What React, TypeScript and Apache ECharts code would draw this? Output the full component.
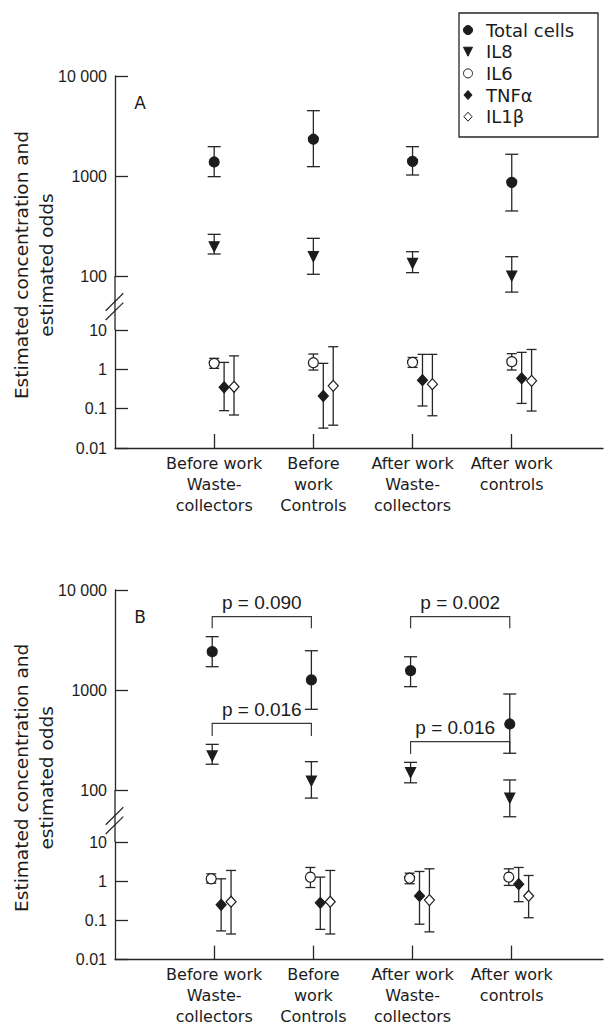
import React, { useEffect, useRef } from 'react';
import * as echarts from 'echarts';

// ---------- data ----------
const categories = [
  'Before work\nWaste-\ncollectors',
  'Before\nwork\nControls',
  'After work\nWaste-\ncollectors',
  'After work\ncontrols',
];
const seriesNames = ['Total cells', 'IL8', 'IL6', 'TNFα', 'IL1β'];

// Panel A
const aTotal = [1380, 2330, 1400, 865];
const aTotalLow = [985, 1240, 1023, 447];
const aTotalHigh = [1965, 4500, 1965, 1650];
const aIL8 = [196, 156, 134, 100];
const aIL8Low = [166, 104, 108, 69];
const aIL8High = [261, 238, 175, 156];
const aIL6 = [1.42, 1.47, 1.5, 1.57];
const aIL6Low = [1.06, 0.96, 1.12, 0.96];
const aIL6High = [1.9, 2.45, 2.0, 2.5];
const aTNF = [0.35, 0.21, 0.53, 0.59];
const aTNFLow = [0.089, 0.032, 0.117, 0.136];
const aTNFHigh = [1.5, 1.42, 2.4, 2.7];
const aIL1b = [0.36, 0.38, 0.42, 0.51];
const aIL1bLow = [0.069, 0.038, 0.066, 0.087];
const aIL1bHigh = [2.2, 3.76, 2.4, 3.2];

// Panel B
const bTotal = [2415, 1260, 1560, 457];
const bTotalLow = [1710, 641, 1080, 233];
const bTotalHigh = [3415, 2470, 2150, 912];
const bIL8 = [219, 123, 149, 83];
const bIL8Low = [181, 83, 118, 54];
const bIL8High = [286, 192, 189, 126];
const bIL6 = [1.15, 1.27, 1.19, 1.27];
const bIL6Low = [0.89, 0.69, 0.86, 0.78];
const bIL6High = [1.54, 2.24, 1.6, 2.07];
const bTNF = [0.25, 0.28, 0.42, 0.84];
const bTNFLow = [0.054, 0.059, 0.08, 0.3];
const bTNFHigh = [1.15, 1.27, 1.77, 2.24];
const bIL1b = [0.3, 0.3, 0.33, 0.42];
const bIL1bLow = [0.045, 0.045, 0.051, 0.117];
const bIL1bHigh = [1.88, 1.88, 2.07, 1.4];

// Axis tick values
const upperTicks = [100, 1000, 10000];
const lowerTicks = [0.01, 0.1, 1, 10];

// Significance brackets (panel B): category numbers, bracket level, arm end, label
const bracketFrom = [1, 1, 3, 3];
const bracketTo = [2, 2, 4, 4];
const bracketLevel = [5410, 464, 5410, 304];
const bracketArm = [4140, 347, 4140, 229];
const bracketText = ['p = 0.090', 'p = 0.016', 'p = 0.002', 'p = 0.016'];

// ---------- styles ----------
const INK = '#1c1c1c';
const LINE = '#262626';
const TEXT_FONT = '"DejaVu Sans", sans-serif';
const NUM_FONT = '"Liberation Sans", Arial, sans-serif';
const X_MAX = 4.92;
const offsetsA = [0, 0, 0, 0.1, 0.2];
const offsetsB = [-0.02, -0.02, -0.03, 0.07, 0.17];
const bracketTextShift = [0, 0, 0, -5];

const DIAMOND = 'path://M5,0 L10,5.5 L5,11 L0,5.5 Z';
const TRI_DOWN = 'path://M0,0 L10,0 L5,10 Z';

const symbols = [
  { symbol: 'circle', size: 10, fill: INK },
  { symbol: TRI_DOWN, size: [10, 10], fill: INK },
  { symbol: 'circle', size: 10, fill: '#ffffff' },
  { symbol: DIAMOND, size: [10, 11], fill: INK },
  { symbol: DIAMOND, size: [10, 11], fill: '#ffffff' },
];

const panels = [
  {
    vals: [aTotal, aIL8, aIL6, aTNF, aIL1b],
    lows: [aTotalLow, aIL8Low, aIL6Low, aTNFLow, aIL1bLow],
    highs: [aTotalHigh, aIL8High, aIL6High, aTNFHigh, aIL1bHigh],
    offsets: offsetsA,
  },
  {
    vals: [bTotal, bIL8, bIL6, bTNF, bIL1b],
    lows: [bTotalLow, bIL8Low, bIL6Low, bTNFLow, bIL1bLow],
    highs: [bTotalHigh, bIL8High, bIL6High, bTNFHigh, bIL1bHigh],
    offsets: offsetsB,
  },
];

function fmtY(v: number) {
  const r = Number(v.toPrecision(3));
  if (r === 10000) return '10 000';
  return String(r);
}

function buildOption() {
  const gridLayout = [
    { top: 76, height: 200 },
    { top: 330, height: 118 },
    { top: 590, height: 200 },
    { top: 842, height: 120 },
  ];
  const grid = gridLayout.map((g) => ({ left: 115, width: 488, top: g.top, height: g.height }));

  const xAxis = gridLayout.map((_, gi) => {
    const lower = gi % 2 === 1;
    return {
      type: 'value',
      gridIndex: gi,
      min: 0,
      max: X_MAX,
      interval: 1,
      show: lower,
      splitLine: { show: false },
      axisLine: { show: lower, onZero: false, lineStyle: { color: LINE, width: 1.3 } },
      axisTick: {
        show: lower,
        inside: true,
        length: 14,
        customValues: [1, 2, 3, 4],
        lineStyle: { color: LINE, width: 1.3 },
      },
      axisLabel: {
        show: lower,
        customValues: [1, 2, 3, 4],
        margin: 5,
        fontFamily: TEXT_FONT,
        fontSize: 16,
        lineHeight: 20.8,
        color: INK,
        formatter: (v: number) => categories[Math.round(v) - 1] ?? '',
      },
    };
  });

  const yAxis = gridLayout.map((_, gi) => {
    const upper = gi % 2 === 0;
    return {
      type: 'log',
      logBase: 10,
      gridIndex: gi,
      min: upper ? upperTicks[0] : lowerTicks[0],
      max: upper ? upperTicks[upperTicks.length - 1] : lowerTicks[lowerTicks.length - 1],
      splitLine: { show: false },
      axisLine: { show: true, onZero: false, lineStyle: { color: LINE, width: 1.3 } },
      axisTick: { show: true, inside: true, length: 13, lineStyle: { color: LINE, width: 1.3 } },
      axisLabel: {
        margin: 8,
        fontFamily: NUM_FONT,
        fontSize: 16,
        color: INK,
        formatter: (v: number) => fmtY(v),
      },
    };
  });

  const series: any[] = [];
  panels.forEach((p, pi) => {
    seriesNames.forEach((name, si) => {
      const gi = pi * 2 + (si < 2 ? 0 : 1);
      const off = p.offsets[si];
      const cap = si < 2 ? 6.5 : 5;
      series.push({
        type: 'custom',
        name: name + ' CI ' + pi,
        xAxisIndex: gi,
        yAxisIndex: gi,
        silent: true,
        clip: false,
        z: 2,
        encode: { x: 0, y: [1, 2] },
        data: p.vals[si].map((_, i) => [i + 1 + off, p.lows[si][i], p.highs[si][i]]),
        renderItem: (params: any, api: any) => {
          const x = api.value(0);
          const lo = api.coord([x, api.value(1)]);
          const hi = api.coord([x, api.value(2)]);
          const st = { stroke: LINE, lineWidth: 1.3 };
          return {
            type: 'group',
            children: [
              { type: 'line', shape: { x1: lo[0], y1: lo[1], x2: hi[0], y2: hi[1] }, style: st },
              { type: 'line', shape: { x1: hi[0] - cap, y1: hi[1], x2: hi[0] + cap, y2: hi[1] }, style: st },
              { type: 'line', shape: { x1: lo[0] - cap, y1: lo[1], x2: lo[0] + cap, y2: lo[1] }, style: st },
            ],
          };
        },
      });
      const sym = symbols[si];
      series.push({
        type: 'scatter',
        name,
        xAxisIndex: gi,
        yAxisIndex: gi,
        silent: true,
        clip: false,
        z: 3,
        symbol: sym.symbol,
        symbolSize: sym.size,
        itemStyle: { color: sym.fill, borderColor: INK, borderWidth: 1.2, opacity: 1 },
        data: p.vals[si].map((v, i) => [i + 1 + off, v]),
      });
    });
  });

  // significance brackets in panel B (upper grid)
  series.push({
    type: 'custom',
    name: 'brackets',
    xAxisIndex: 2,
    yAxisIndex: 2,
    silent: true,
    clip: false,
    z: 1,
    encode: { x: [0, 1], y: [2, 3] },
    data: bracketFrom.map((f, i) => [f + offsetsB[0], bracketTo[i] + offsetsB[0], bracketLevel[i], bracketArm[i], i]),
    renderItem: (params: any, api: any) => {
      const x1 = api.value(0);
      const x2 = api.value(1);
      const a = api.coord([x1, api.value(2)]);
      const b = api.coord([x2, api.value(2)]);
      const a2 = api.coord([x1, api.value(3)]);
      const b2 = api.coord([x2, api.value(3)]);
      const idx = api.value(4);
      return {
        type: 'group',
        children: [
          {
            type: 'polyline',
            shape: { points: [a2, a, b, b2] },
            style: { stroke: '#3a3a3a', lineWidth: 1.2, fill: 'none' },
          },
          {
            type: 'text',
            x: (a[0] + b[0]) / 2 + bracketTextShift[idx],
            y: a[1] - 14,
            style: {
              text: bracketText[idx],
              fill: INK,
              font: '19px ' + NUM_FONT,
              align: 'center',
              verticalAlign: 'middle',
            },
          },
        ],
      };
    },
  });

  return {
    animation: false,
    backgroundColor: '#ffffff',
    grid,
    xAxis,
    yAxis,
    legend: {
      data: seriesNames,
      orient: 'vertical',
      left: 463,
      top: 19.2,
      padding: 0,
      itemGap: 0,
      itemWidth: 26,
      itemHeight: 9,
      selectedMode: false,
      symbolKeepAspect: true,
      itemStyle: { borderWidth: 1 },
      textStyle: { fontFamily: TEXT_FONT, fontSize: 18, lineHeight: 21.67, color: INK },
    },
    series,
  };
}

export default function App() {
  const ref = useRef<HTMLDivElement>(null);
  useEffect(() => {
    document.body.style.margin = '0';
    const chart = echarts.init(ref.current as HTMLDivElement, undefined, { renderer: 'svg' });
    chart.setOption(buildOption() as any);

    const elements: any[] = [];
    const letters = ['A', 'B'];
    for (let p = 0; p < 2; p++) {
      const ax = chart.convertToPixel({ xAxisIndex: 2 * p + 1 }, 0) as unknown as number;
      const yTop = chart.convertToPixel({ yAxisIndex: 2 * p }, upperTicks[2]) as unknown as number;
      const y100 = chart.convertToPixel({ yAxisIndex: 2 * p }, upperTicks[0]) as unknown as number;
      const y10 = chart.convertToPixel({ yAxisIndex: 2 * p + 1 }, lowerTicks[3]) as unknown as number;
      const yBot = chart.convertToPixel({ yAxisIndex: 2 * p + 1 }, lowerTicks[0]) as unknown as number;
      const st = { stroke: LINE, lineWidth: 1.3 };
      // axis segment across the break
      elements.push({ type: 'line', shape: { x1: ax, y1: y100, x2: ax, y2: y10 }, style: st, z: 10 });
      // break marks
      [26, 35.3].forEach((dy) => {
        const cx = ax - 0.5;
        const cy = y100 + dy;
        elements.push({
          type: 'line',
          shape: { x1: cx - 8.8, y1: cy + 8.7, x2: cx + 8.8, y2: cy - 8.7 },
          style: { stroke: LINE, lineWidth: 1.2 },
          z: 10,
        });
      });
      // axis title
      elements.push({
        type: 'text',
        x: 33.5,
        y: (yTop + yBot) / 2 + 3,
        rotation: Math.PI / 2,
        style: {
          text: 'Estimated concentration and\nestimated odds',
          fill: INK,
          font: '18.5px ' + TEXT_FONT,
          lineHeight: 25,
          align: 'center',
          verticalAlign: 'middle',
        },
        z: 10,
      });
      // panel letter
      elements.push({
        type: 'text',
        x: ax + 25,
        y: yTop + 27,
        style: {
          text: letters[p],
          fill: INK,
          font: '17px ' + TEXT_FONT,
          align: 'center',
          verticalAlign: 'middle',
        },
        z: 10,
      });
    }
    // legend frame
    elements.push({
      type: 'rect',
      shape: { x: 459, y: 13, width: 139, height: 124 },
      style: { fill: 'none', stroke: LINE, lineWidth: 1.3 },
      z: 10,
    });
    chart.setOption({ graphic: { elements } });
    return () => chart.dispose();
  }, []);
  return <div ref={ref} style={{ width: 605, height: 1027 }} />;
}
